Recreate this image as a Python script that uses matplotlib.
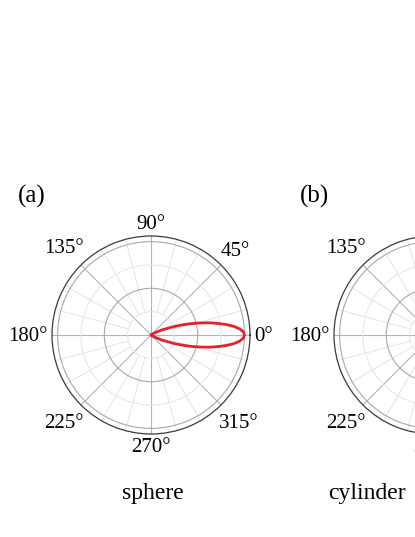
import numpy as np
import matplotlib
matplotlib.use("Agg")
import matplotlib.pyplot as plt

# Data (sphere radiation lobe, symmetric about 0°)
angles_deg = [-45, -40, -35, -30, -25, -20, -18, -16, -14, -12, -10, -8, -6, -4, -2,
              0, 2, 4, 6, 8, 10, 12, 14, 16, 18, 20, 25, 30, 35, 40, 45]
radius = [0.0, 0.004, 0.015, 0.05, 0.13, 0.27, 0.35, 0.44, 0.53, 0.63, 0.72, 0.81, 0.89, 0.95, 0.99,
          1.0, 0.99, 0.95, 0.89, 0.81, 0.72, 0.63, 0.53, 0.44, 0.35, 0.27, 0.13, 0.05, 0.015, 0.004, 0.0]
theta_ticks = [0, 45, 90, 135, 180, 225, 270, 315]
theta_labels = ["0°", "45°", "90°", "135°", "180°", "225°", "270°", "315°"]
panel_labels = ["(a)", "(b)"]
captions = ["sphere", "cylinder"]

plt.rcParams['font.family'] = ['Liberation Serif', 'DejaVu Serif']

W, H = 415, 537
DPI = 100
RMAX = 1.06
fig = plt.figure(figsize=(W / DPI, H / DPI), dpi=DPI)
R_PX = 99
TICK_FS = 15


def make_polar(cx, cy, r_px):
    ax = fig.add_axes([(cx - r_px) / W, (H - cy - r_px) / H, 2 * r_px / W, 2 * r_px / H],
                      projection='polar')
    ax.set_ylim(0, RMAX)
    ax.set_xticks(np.deg2rad(theta_ticks))
    ax.set_xticklabels([])
    ax.set_yticks([0.5, 1.0])
    ax.set_yticks([0.25, 0.75], minor=True)
    ax.set_yticklabels([])
    ax.tick_params(axis='both', which='both', length=0)
    ax.xaxis.grid(True, which='major', color='#b4b4b4', linewidth=0.8)
    ax.yaxis.grid(True, which='major', color='#a8a8a8', linewidth=0.8)
    ax.yaxis.grid(True, which='minor', color='#e4e4e4', linewidth=0.7)
    # minor angular grid (every 15°), starting at the innermost ring
    minor = [a for a in range(0, 360, 15) if a % 45 != 0]
    ax.vlines(np.deg2rad(minor), 0.25, RMAX, colors='#e4e4e4', linewidth=0.7, zorder=0.5)
    ax.spines['polar'].set_color('#3a3a3a')
    ax.spines['polar'].set_linewidth(0.9)
    # theta labels: placed outside the circle, edge-based like the reference
    texts = []
    for a, lab in zip(theta_ticks, theta_labels):
        t = ax.annotate(lab, xy=(np.deg2rad(a), RMAX), xycoords='data',
                        xytext=(0, 0), textcoords='offset points',
                        ha='center', va='center', fontsize=TICK_FS,
                        annotation_clip=False)
        texts.append((a, t))
    return ax, texts


ax_a, texts_a = make_polar(151, 335, R_PX)
ax_a.plot(np.deg2rad(angles_deg), radius, color='#e8202a', linewidth=2.0,
          solid_capstyle='round', zorder=3)

ax_b, texts_b = make_polar(433, 335, R_PX)

fig.canvas.draw()
renderer = fig.canvas.get_renderer()
gap = 4.5
for a, t in texts_a + texts_b:
    bb = t.get_window_extent(renderer)
    w, h = bb.width, TICK_FS * 1.389 * 0.8
    c, s = np.cos(np.deg2rad(a)), np.sin(np.deg2rad(a))
    d = gap + (w / 2) * abs(c) + (h / 2) * abs(s)
    t.set_position((d * c / 1.389, d * s / 1.389 - 0.8))

fig.text(18 / W, 1 - 196 / H, panel_labels[0], fontsize=18, ha='left', va='center')
fig.text(300 / W, 1 - 196 / H, panel_labels[1], fontsize=18, ha='left', va='center')
fig.text(153 / W, 1 - 499 / H, captions[0], fontsize=17, ha='center', va='baseline')
fig.text(328 / W, 1 - 499 / H, captions[1], fontsize=17, ha='left', va='baseline')

fig.savefig("out.png", dpi=DPI)
